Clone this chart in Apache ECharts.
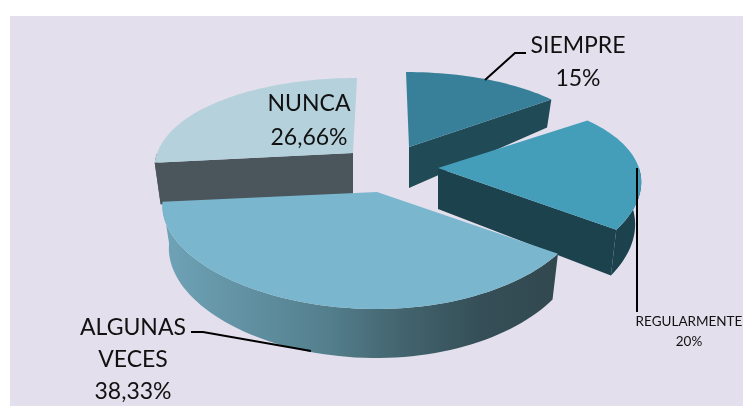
<!DOCTYPE html>
<html>
<head>
<meta charset="utf-8">
<title>Pie</title>
<style>
  html, body { margin: 0; padding: 0; background: #fff; }
  #chart { width: 743px; height: 406px; }
</style>
<script src="https://cdn.jsdelivr.net/npm/echarts@6/dist/echarts.min.js"></script>
</head>
<body>
<div id="chart"></div>
<script>
var categories = ['SIEMPRE', 'REGULARMENTE', 'ALGUNAS VECES', 'NUNCA'];
var values = [15, 20, 38.33, 26.66];
var valueLabels = ['15%', '20%', '38,33%', '26,66%'];

// layout of each exploded slice (centre of its top face), ECharts has no 3d pie so it is projected by hand
var apex = [[409, 147], [438, 168], [377, 192], [353, 153]];
var scaleRight = [0.95, 0.985, 1.0, 0.95];
var scaleLeft = [0.95, 0.985, 1.04, 0.96];
var lean = [-3, 0, 0, 4];
var order = [1, 2, 3, 0];
var topColors = ['#38809a', '#449eb9', '#7ab7ce', '#b4d1dc'];
var wallColors = ['#1f4a56', '#1b424d', '#1b424d', '#4a565c'];
var labelPos = [[578, 62], [689, 332], [133, 360], [309, 121]];
var labelSize = [23, 13.5, 23, 23];
var labelLine = [33, 20, 32, 34];
var leaders = [
  [[485, 80], [515, 53], [526, 53]],
  [[637, 168], [637, 312]],
  [[191, 332], [203, 332], [311, 351]],
  null
];

var RX = 204, RY = 91.4, PERSP_X = 0.15, PERSP_Y = 0.219;

function point(i, deg, r, bottom) {
  var a = deg * Math.PI / 180;
  var X = r * Math.sin(a), Y = r * Math.cos(a);
  var x = RX * (X < 0 ? scaleLeft[i] : scaleRight[i]) * X / (1 + PERSP_X * Y) + lean[i] * Y;
  var y = -RY * Y / (1 + PERSP_Y * Y);
  if (bottom) {
    x = x * 0.97;
    y = y + 41 - (Y > 0 ? 22 : 8) * Y;
  }
  return [apex[i][0] + x, apex[i][1] + y];
}

function arc(i, from, to, bottom) {
  var pts = [];
  var n = Math.max(2, Math.ceil((to - from) / 2));
  for (var k = 0; k <= n; k++) {
    pts.push(point(i, from + (to - from) * k / n, 1, bottom));
  }
  return pts;
}

var total = values.reduce(function (a, b) { return a + b; }, 0);
var startAngles = [];
var sum = 0;
values.forEach(function (v) {
  startAngles.push(sum / total * 360);
  sum += v;
});

function wall(i, deg, z, color) {
  return {
    type: 'polygon', z2: z, silent: true,
    shape: { points: [point(i, deg, 0, false), point(i, deg, 1, false), point(i, deg, 1, true), point(i, deg, 0, true)] },
    style: { fill: color }
  };
}

function renderItem(params, api) {
  var i = params.dataIndex;
  var from = startAngles[i];
  var to = from + api.value(0) / total * 360;
  var z = order[i] * 10;
  var children = [];

  if (to > from && to < 180) children.push(wall(i, to, z, wallColors[i]));
  if (from > 180) children.push(wall(i, from, z, wallColors[i]));

  var rimFrom = Math.max(from, 90), rimTo = Math.min(to, 270);
  if (rimTo > rimFrom) {
    var rimFill = wallColors[i];
    if (i === 2) {
      rimFill = new echarts.graphic.LinearGradient(0, 0, 1, 0, [
        { offset: 0, color: '#6fa3b7' },
        { offset: 0.4, color: '#55818f' },
        { offset: 0.6, color: '#43656f' },
        { offset: 0.8, color: '#354f58' },
        { offset: 1, color: '#32484f' }
      ]);
    }
    children.push({
      type: 'polygon', z2: z + 1, silent: true,
      shape: { points: arc(i, rimFrom, rimTo, false).concat(arc(i, rimFrom, rimTo, true).reverse()) },
      style: { fill: rimFill }
    });
  }

  children.push({
    type: 'polygon', z2: z + 2, silent: true,
    shape: { points: [point(i, from, 0, false)].concat(arc(i, from, to, false)) },
    style: { fill: topColors[i] }
  });

  if (leaders[i]) {
    children.push({
      type: 'polyline', z2: 100, silent: true,
      shape: { points: leaders[i] },
      style: { stroke: '#000', lineWidth: 2, fill: null }
    });
  }
  children.push({
    type: 'text', z2: 101, silent: true,
    style: {
      text: categories[i].replace(' ', '\n') + '\n' + valueLabels[i],
      x: labelPos[i][0], y: labelPos[i][1],
      align: 'center', verticalAlign: 'middle',
      fontFamily: 'Lato', fontSize: labelSize[i], lineHeight: labelLine[i],
      fill: '#111'
    }
  });

  return { type: 'group', children: children };
}

var myChart = echarts.init(document.getElementById('chart'));
myChart.setOption({
  backgroundColor: '#fff',
  animation: false,
  graphic: [{
    type: 'rect', z: -1, silent: true,
    shape: { x: 10, y: 16, width: 733, height: 390 },
    style: { fill: '#e4dfec' }
  }],
  series: [{
    type: 'custom',
    coordinateSystem: 'none',
    renderItem: renderItem,
    data: values.map(function (v) { return [v]; })
  }]
});
</script>
</body>
</html>
